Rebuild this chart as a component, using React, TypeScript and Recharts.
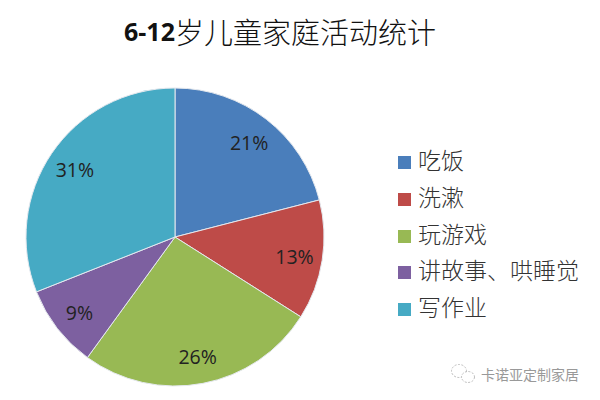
import { PieChart, Pie, Cell, Legend } from 'recharts';

const activities = ['吃饭', '洗漱', '玩游戏', '讲故事、哄睡觉', '写作业'];
const shares = [21, 13, 26, 9, 31];
const colors = ['#4a7ebb', '#be4b48', '#98b954', '#7d60a0', '#46aac4'];

const data = activities.map((name, i) => ({ name, value: shares[i] }));

const CJK = '"Noto Sans CJK SC", sans-serif';
const LATIN = '"Open Sans", sans-serif';
const RAD = Math.PI / 180;

function renderLabel({ cx, cy, midAngle, value }: any) {
  const r = 121;
  return (
    <text
      x={cx + r * Math.cos(-midAngle * RAD)}
      y={cy + r * Math.sin(-midAngle * RAD) + 1}
      textAnchor="middle"
      dominantBaseline="central"
      fontFamily={LATIN}
      fontSize={19.5}
      fill="#222"
    >
      {value}%
    </text>
  );
}

function renderLegend() {
  return (
    <div style={{ fontFamily: CJK, fontSize: 23, fontWeight: 300, color: '#333' }}>
      {data.map((d, i) => (
        <div key={d.name} style={{ display: 'flex', alignItems: 'center', height: 36.7, whiteSpace: 'nowrap' }}>
          <span style={{ width: 13, height: 13, marginTop: 7, marginRight: 7, background: colors[i], flex: 'none' }} />
          <span>{d.name}</span>
        </div>
      ))}
    </div>
  );
}

export default function App() {
  return (
    <div style={{ position: 'absolute', left: 0, top: 0, width: 600, height: 400, background: '#fff', overflow: 'hidden' }}>
      <PieChart width={600} height={400} margin={{ top: 0, right: 0, bottom: 0, left: 0 }}>
        <text x={124} y={31} dominantBaseline="central" fill="#111" fontSize={29} fontFamily={CJK} fontWeight={300}>
          <tspan fontWeight={700} fontFamily={LATIN} fontSize={25}>6-12</tspan>
          <tspan>岁儿童家庭活动统计</tspan>
        </text>
        <Pie
          data={data}
          dataKey="value"
          nameKey="name"
          cx={175}
          cy={237}
          outerRadius={149}
          startAngle={90}
          endAngle={-270}
          stroke="#e4e8ee"
          strokeWidth={1}
          label={renderLabel}
          labelLine={false}
          isAnimationActive={false}
        >
          {data.map((d, i) => (
            <Cell key={d.name} fill={colors[i]} />
          ))}
        </Pie>
        <Legend content={renderLegend} layout="vertical" wrapperStyle={{ left: 398, top: 141, width: 200 }} />
        {/* watermark */}
        <g fill="none" stroke="#bbb" strokeWidth={1}>
          <ellipse cx={459} cy={371} rx={7.5} ry={6.5} strokeDasharray="2 1.5" />
          <ellipse cx={468} cy={377} rx={6.5} ry={5.5} fill="#fff" strokeDasharray="2 1.5" />
        </g>
        <text x={481} y={374} dominantBaseline="central" fill="#999" fontSize={14} fontFamily={CJK}>
          卡诺亚定制家居
        </text>
      </PieChart>
    </div>
  );
}
